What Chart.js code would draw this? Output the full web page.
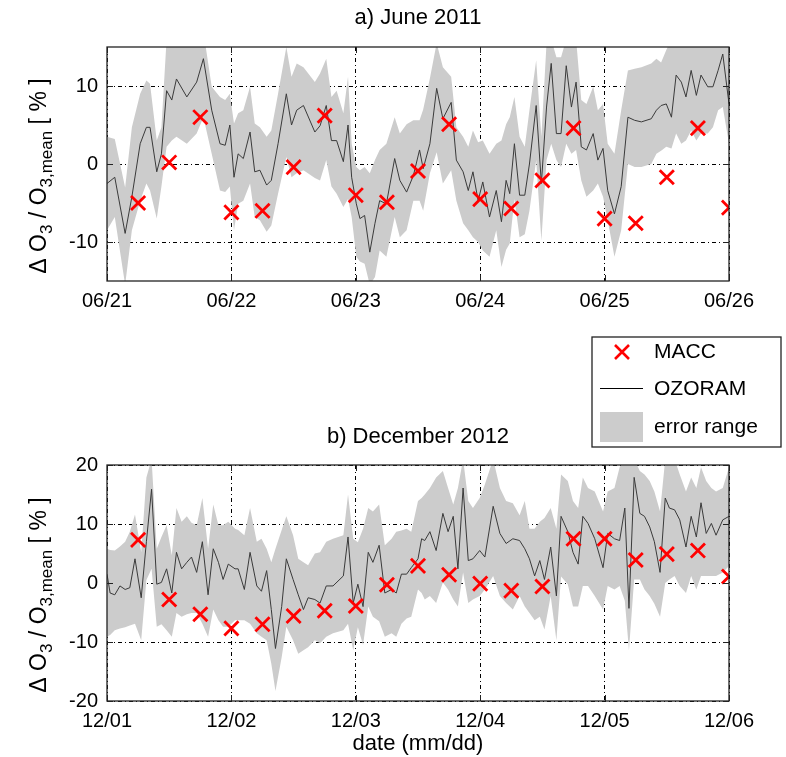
<!DOCTYPE html>
<html>
<head>
<meta charset="utf-8">
<script src="https://cdn.jsdelivr.net/npm/chart.js@4.4.0/dist/chart.umd.min.js"></script>
<style>
body { margin: 0; background: #fff; }
#wrap { position: relative; width: 786px; height: 757px; }
#chart_top { position: absolute; left: 0; top: 0; }
#chart_bottom { position: absolute; left: 0; top: 320px; }
</style>
</head>
<body>
<div id="wrap">
<canvas id="chart_top" width="786" height="320"></canvas>
<canvas id="chart_bottom" width="786" height="437"></canvas>
</div>
<script>
// tick labels / positions (hours since first day 00:00)
var dayHours = [0, 24, 48, 72, 96, 120];
var topDates = ['06/21', '06/22', '06/23', '06/24', '06/25', '06/26'];
var bottomDates = ['12/01', '12/02', '12/03', '12/04', '12/05', '12/06'];
var topTicksY = [-10, 0, 10];
var bottomTicksY = [-20, -10, 0, 10, 20];

// MACC model, 6-hourly
var maccHours = [6, 12, 18, 24, 30, 36, 42, 48, 54, 60, 66, 72, 78, 84, 90, 96, 102, 108, 114, 120];
var topMacc = [-5.0, 0.2, 6.0, -6.2, -6.0, -0.4, 6.2, -4.0, -4.9, -0.9, 5.1, -4.5, -5.7, -2.1, 4.6, -7.0, -7.6, -1.7, 4.6, -5.6];
var bottomMacc = [7.3, -2.8, -5.3, -7.7, -7.0, -5.6, -4.7, -3.9, -0.3, 2.9, 1.4, -0.1, -1.3, -0.6, 7.5, 7.5, 3.9, 4.9, 5.5, 1.1];

// OZORAM, June 2011
var topHours = [0, 1.5, 3.5, 4.8, 6.4, 7.6, 8.3, 9.6, 10.5, 11.5,
  12.5, 13.4, 15.4, 17.3, 18.6, 20.2, 21.8, 22.8, 23.7, 24.5,
  25.3, 26.3, 27.6, 28.5, 29.5, 30.8, 31.7, 33.0, 34.6, 35.6,
  36.6, 37.9, 40.1, 41.1, 42.3, 43.3, 44.3, 45.6, 46.5, 47.2,
  48.1, 48.8, 49.7, 50.7, 51.7, 52.6, 53.9, 55.5, 56.5, 57.8,
  59.1, 60.3, 61.0, 62.3, 63.6, 64.8, 66.4, 67.4, 68.7, 69.7,
  70.6, 71.6, 72.5, 73.8, 75.1, 76.1, 77.0, 77.7, 78.6, 79.6,
  80.6, 81.5, 82.8, 83.8, 84.8, 85.7, 86.7, 87.6, 88.6, 89.6,
  90.5, 91.5, 92.5, 93.8, 94.7, 95.7, 96.6, 97.9, 99.2, 100.5,
  101.8, 103.1, 105.0, 106.0, 106.9, 107.9, 108.9, 109.8, 110.8, 111.7,
  112.7, 113.7, 114.6, 115.9, 116.9, 117.9, 118.8, 120];
var topLine = [-2.5, -1.7, -8.9, -4.2, 2.6, 4.7, 4.7, -1.0, 1.3, 9.4,
  8.2, 10.9, 8.6, 10.5, 13.5, 6.9, 2.6, 2.4, 5.0, -1.7,
  1.3, 0.7, 4.1, -1.0, -0.8, -2.7, -2.1, 2.6, 9.0, 5.0,
  6.9, 7.5, 4.1, 4.9, 7.5, 3.0, 3.0, 0.3, 5.0, -1.7,
  -5.1, -7.0, -6.6, -11.3, -7.6, -4.7, -5.1, 0.7, -2.1, -3.6,
  -1.5, 1.8, -0.6, 2.6, 9.7, 5.8, 7.9, 0.5, -1.0, -3.4,
  -1.0, -4.7, -2.3, -6.8, -3.4, -7.4, -2.1, -3.8, 2.6, -4.0,
  -4.0, 0.0, 7.5, -2.5, 7.3, 12.9, 3.9, 3.9, 12.6, 7.3,
  10.5, 2.2, 1.8, 3.9, 0.5, 2.0, -3.4, -6.4, -2.9, 6.0,
  5.6, 5.4, 5.8, 6.9, 7.5, 7.7, 6.0, 11.4, 10.5, 8.6,
  12.0, 8.8, 11.4, 9.9, 9.9, 12.0, 14.1, 7.7];
var topUpper = [3.5, 3.2, -3.0, 4.7, 9.0, 10.7, 10.3, 3.0, 4.7, 16,
  16, 16, 16, 16, 17, 9.9, 8.6, 8.2, 9.0, 5.2,
  6.5, 6.9, 9.9, 5.2, 4.7, 3.5, 4.3, 9.0, 15.0, 11.2,
  12.9, 12.4, 10.5, 11.6, 13.5, 8.6, 9.4, 6.5, 11.2, 2.6,
  -0.4, -0.8, -0.4, -1.2, 0.5, 1.8, 2.6, 6.0, 3.9, 5.1,
  5.6, 5.6, 7.0, 11.0, 15.5, 12.4, 11.2, 4.7, 3.5, 2.2,
  4.3, 2.8, 3.0, 1.3, 2.6, 3.0, 5.1, 6.0, 8.6, 3.5,
  2.2, 6.9, 13.3, 3.5, 15.5, 16, 13.7, 13.7, 16, 16,
  16, 8.2, 7.7, 9.9, 6.9, 7.7, 2.6, 1.3, 6.9, 12.0,
  12.2, 12.4, 12.9, 13.5, 13.0, 14.6, 16, 16, 16, 16,
  16, 16, 16, 16, 16, 16, 16, 16];
var topLower = [-8.5, -6.8, -15.5, -8.5, -4.7, -2.5, -3.4, -7.0, -2.9, 2.2,
  3.0, 3.5, 2.6, 3.9, 6.0, 1.3, -3.4, -3.6, -2.9, -8.5,
  -5.1, -4.7, -2.5, -6.8, -7.2, -8.7, -7.9, -3.8, 0.9, -1.7,
  -1.2, -0.8, -1.8, -2.1, 0.5, -2.9, -3.8, -5.5, -4.5, -6.8,
  -11.9, -12.5, -12.8, -15.5, -14.5, -11.1, -11.9, -6.8, -9.4, -8.5,
  -4.7, -4.7, -6.0, -1.2, 1.5, -2.5, -0.8, -4.7, -7.6, -8.5,
  -9.4, -10.0, -11.1, -11.9, -8.5, -13.2, -11.0, -10.2, -4.5, -9.4,
  -9.0, -6.0, 0.5, -9.8, 0.5, 2.6, 0.5, -0.4, 2.6, 1.3,
  1.8, -2.1, -4.2, -3.4, -2.5, -4.2, -7.2, -11.9, -8.5, 0.0,
  -0.4, -0.4, 0.0, 1.3, 1.7, 2.2, 2.0, 3.9, 2.6, 3.0,
  4.3, 3.0, 3.9, 3.9, 4.7, 6.9, 7.3, 2.6];

// OZORAM, December 2012
var bottomHours = [0, 0.6, 1.5, 2.5, 3.5, 4.4, 5.4, 6.6, 7.6, 8.6,
  9.6, 10.5, 11.5, 12.5, 13.4, 14.4, 15.4, 16.3, 17.3, 18.4,
  19.5, 20.5, 21.5, 22.4, 23.4, 24.7, 25.3, 26.5, 27.6, 28.9,
  29.8, 30.8, 31.7, 32.5, 33.7, 34.6, 35.9, 36.9, 37.9, 38.8,
  40.1, 41.1, 42.3, 43.6, 45.6, 46.5, 47.5, 48.4, 49.4, 50.4,
  51.3, 52.5, 53.6, 54.9, 55.8, 56.8, 57.8, 58.7, 60.0, 60.7,
  61.3, 62.3, 63.5, 64.8, 65.8, 66.8, 67.7, 68.7, 69.7, 70.6,
  71.9, 72.9, 74.5, 75.8, 77.0, 78.3, 79.6, 80.6, 81.5, 82.5,
  83.5, 84.4, 85.6, 86.7, 87.6, 88.9, 89.9, 90.9, 91.8, 92.8,
  94.1, 95.7, 96.6, 97.9, 98.9, 99.9, 100.7, 101.7, 102.8, 103.7,
  104.7, 105.6, 106.7, 107.7, 108.5, 109.5, 110.5, 111.7, 112.7, 113.7,
  114.6, 115.6, 116.6, 117.5, 118.8, 120];
var bottomLine = [1.5, -1.7, -2.0, -0.5, -1.1, -0.8, 4.1, -2.5, 7.0, 15.9,
  -0.2, 0.1, 2.4, -1.7, 5.2, 2.4, 3.5, 4.4, 1.8, 7.0,
  -2.0, 5.8, 3.5, 0.6, 3.2, 2.4, 2.4, -1.1, 5.2, -0.5,
  -1.4, 2.1, -4.5, -11.1, -4.0, 4.1, 0.6, -2.0, -4.5, -2.5,
  -2.8, -3.4, -0.5, -0.5, 1.2, 7.8, -3.4, -0.2, -4.0, 5.2,
  3.5, 6.4, -1.7, -1.1, -1.7, 1.5, 1.5, 2.6, 4.1, 7.5,
  7.2, 8.7, 5.5, 11.8, 8.7, 11.3, 2.4, 16.1, 3.8, 4.1,
  5.5, 4.4, 13.0, 8.4, 6.7, 7.5, 7.2, 5.8, 4.1, 1.2,
  3.8, 0.6, 6.1, -2.2, 11.3, 8.7, 5.2, 3.2, 11.3, 10.1,
  7.5, 2.6, 8.4, 7.5, 7.2, 12.7, -4.3, 17.9, 11.8, 11.3,
  9.5, 7.0, 1.8, 14.4, 12.7, 12.4, 10.7, 6.1, 11.3, 7.8,
  13.6, 8.4, 10.1, 8.1, 10.7, 11.3];
var bottomUpper = [5.8, 5.6, 5.5, 6.2, 7.0, 8.7, 11.6, 5.2, 17.9, 21,
  5.8, 7.8, 9.8, 4.7, 12.7, 10.4, 11.3, 10.2, 9.8, 14.4,
  5.8, 13.3, 9.8, 9.8, 10.4, 9.2, 9.0, 8.1, 12.7, 7.0,
  7.5, 5.8, 3.5, 5.8, 9.0, 11.3, 8.1, 4.1, 3.5, 3.0,
  5.0, 5.2, 7.0, 7.5, 8.1, 15.0, 7.5, 6.9, 9.2, 12.7,
  12.1, 13.3, 6.4, 7.5, 8.7, 8.9, 9.2, 8.7, 13.9, 14.4,
  15.0, 16.1, 17.9, 19.0, 16.1, 13.3, 16.1, 21, 13.9, 12.7,
  14.4, 16.7, 21, 16.1, 13.9, 13.5, 11.5, 13.9, 9.2, 9.2,
  10.4, 11.0, 12.7, 9.2, 18.4, 17.3, 13.9, 12.7, 17.9, 16.1,
  15.5, 12.1, 15.5, 16.1, 19.6, 21, 21, 21, 19.0, 18.4,
  17.3, 15.5, 12.1, 21, 21, 21, 18.4, 15.5, 17.9, 16.1,
  19.6, 17.3, 16.1, 15.5, 16.1, 19.6];
var bottomLower = [-9.1, -8.8, -8.0, -7.7, -7.5, -7.2, -6.9, -9.7, 0.5, 2.4,
  -7.4, -7.0, -8.0, -9.1, -5.1, -5.7, -5.3, -5.1, -5.1, -6.9,
  -9.1, -4.5, -6.3, -7.4, -7.4, -6.3, -6.3, -6.3, -6.9, -8.5,
  -9.1, -9.7, -13.7, -18.3, -12.6, -7.4, -9.7, -12.0, -11.4, -10.9,
  -9.7, -10.2, -9.1, -8.5, -8.0, -6.9, -11.4, -7.5, -10.5, -4.0,
  -5.7, -6.5, -9.1, -8.5, -9.1, -6.9, -6.0, -5.7, -1.1, -1.7,
  -2.8, -2.2, -3.4, 0.1, -1.1, -2.8, -4.0, 1.8, -3.4, -2.8,
  -2.2, -1.1, 1.2, -2.2, -3.4, -4.5, -2.2, -4.0, -5.1, -6.3,
  -5.7, -7.9, -2.2, -9.7, 1.1, -0.2, -4.0, -4.0, -0.5, -0.5,
  -2.2, -4.5, -0.5, -1.1, -0.5, -3.0, -11.4, 0.6, 0.6, -1.1,
  -2.2, -3.5, -5.7, 0.0, 0.6, 1.2, -0.5, -1.7, 1.2, -1.1,
  1.2, 1.2, 1.2, 1.2, 1.8, 2.9];

var FONT = '"Liberation Sans", Arial, Helvetica, sans-serif';

function pts(xs, ys) {
  return xs.map(function (x, i) { return { x: x, y: ys[i] }; });
}

function makeDatasets(lineHours, line, upper, lower, macc) {
  return [{
    label: 'MACC',
    data: pts(maccHours, macc),
    showLine: false,
    pointStyle: 'crossRot',
    pointRadius: 10,
    pointBorderWidth: 2.8,
    pointBorderColor: '#ff0000',
    pointBackgroundColor: '#ff0000',
    order: 0
  }, {
    label: 'OZORAM',
    data: pts(lineHours, line),
    borderColor: '#3a3a3a',
    borderWidth: 1,
    pointRadius: 0,
    tension: 0,
    fill: false,
    order: 1
  }, {
    label: 'error range',
    data: pts(lineHours, upper),
    borderWidth: 0,
    borderColor: 'rgba(0,0,0,0)',
    backgroundColor: '#cccccc',
    pointRadius: 0,
    fill: '+1',
    order: 2
  }, {
    label: 'lower',
    data: pts(lineHours, lower),
    borderWidth: 0,
    borderColor: 'rgba(0,0,0,0)',
    pointRadius: 0,
    fill: false,
    order: 3
  }];
}

var yLabelParts = [
  { text: '\u0394 O', sub: false },
  { text: '3', sub: true },
  { text: ' / O', sub: false },
  { text: '3,mean', sub: true },
  { text: ' [ % ]', sub: false }
];

// panel title, black box, inward ticks and the y label with subscripts
var boxPlugin = {
  id: 'axesBox',
  afterDraw: function (chart, args, opts) {
    var a = chart.chartArea, c = chart.ctx;
    var xs = chart.scales.x, ys = chart.scales.y;
    c.save();
    c.strokeStyle = '#222';
    c.lineWidth = 1.3;
    c.strokeRect(a.left, a.top, a.right - a.left, a.bottom - a.top);
    c.lineWidth = 1;
    c.beginPath();
    xs.ticks.forEach(function (t) {
      var px = Math.round(xs.getPixelForValue(t.value)) + 0.5;
      c.moveTo(px, a.bottom); c.lineTo(px, a.bottom - 6);
      c.moveTo(px, a.top); c.lineTo(px, a.top + 6);
    });
    ys.ticks.forEach(function (t) {
      var py = Math.round(ys.getPixelForValue(t.value)) + 0.5;
      c.moveTo(a.left, py); c.lineTo(a.left + 6, py);
      c.moveTo(a.right, py); c.lineTo(a.right - 6, py);
    });
    c.stroke();

    c.fillStyle = '#000';
    c.textAlign = 'center';
    c.textBaseline = 'middle';
    c.font = '22px ' + FONT;
    c.fillText(opts.title, (a.left + a.right) / 2, opts.titleY);

    c.textAlign = 'left';
    c.translate(40, (a.top + a.bottom) / 2 + 12);
    c.rotate(-Math.PI / 2);
    var big = '23px ' + FONT, small = '17px ' + FONT;
    var total = 0;
    yLabelParts.forEach(function (p) {
      c.font = p.sub ? small : big;
      total += c.measureText(p.text).width;
    });
    var x = -total / 2;
    yLabelParts.forEach(function (p) {
      c.font = p.sub ? small : big;
      c.fillText(p.text, x, p.sub ? 7 : 0);
      x += c.measureText(p.text).width;
    });
    c.restore();
  }
};

// legend box between the two panels (drawn on the lower canvas)
var legendPlugin = {
  id: 'sideLegend',
  afterDraw: function (chart) {
    var c = chart.ctx, ds = chart.data.datasets;
    c.save();
    c.fillStyle = '#fff';
    c.fillRect(592, 17, 189, 110);
    c.strokeStyle = '#222';
    c.lineWidth = 1.3;
    c.strokeRect(592, 17, 189, 110);
    // cross
    c.strokeStyle = '#ff0000';
    c.lineWidth = 2.6;
    c.beginPath();
    c.moveTo(615, 25); c.lineTo(629, 39);
    c.moveTo(629, 25); c.lineTo(615, 39);
    c.stroke();
    // line
    c.strokeStyle = '#000';
    c.lineWidth = 1.2;
    c.beginPath();
    c.moveTo(600, 68.5); c.lineTo(643, 68.5);
    c.stroke();
    // patch
    c.fillStyle = '#cccccc';
    c.fillRect(600, 92, 43, 30);
    c.fillStyle = '#000';
    c.font = '21px ' + FONT;
    c.textBaseline = 'middle';
    c.fillText(ds[0].label, 654, 32);
    c.fillText(ds[1].label, 654, 69);
    c.fillText(ds[2].label, 654, 107);
    c.restore();
  }
};

function makeOptions(title, titleY, dates, yMin, yMax, yTicks, padTop, xHeight, xTitle) {
  return {
    responsive: false,
    animation: false,
    layout: { padding: { left: 0, right: 57, top: padTop, bottom: 0 } },
    plugins: {
      legend: { display: false },
      tooltip: { enabled: false },
      title: { display: false },
      axesBox: { title: title, titleY: titleY }
    },
    scales: {
      x: {
        type: 'linear',
        min: 0,
        max: 120,
        afterBuildTicks: function (s) { s.ticks = dayHours.map(function (v) { return { value: v }; }); },
        afterFit: function (s) { s.height = xHeight; },
        grid: { color: '#000', lineWidth: 1, drawTicks: false },
        border: { display: false, dash: [4, 3, 1, 3] },
        ticks: {
          color: '#000',
          padding: 8,
          maxRotation: 0,
          autoSkip: false,
          font: { family: FONT, size: 20 },
          callback: function (v) { return dates[dayHours.indexOf(v)]; }
        },
        title: {
          display: !!xTitle,
          text: xTitle || '',
          color: '#000',
          font: { family: FONT, size: 22, lineHeight: 1.2 },
          padding: { top: 0, bottom: 0 }
        }
      },
      y: {
        min: yMin,
        max: yMax,
        afterBuildTicks: function (s) { s.ticks = yTicks.map(function (v) { return { value: v }; }); },
        afterFit: function (s) { s.width = 107; },
        grid: { color: '#000', lineWidth: 1, drawTicks: false },
        border: { display: false, dash: [4, 3, 1, 3] },
        ticks: {
          color: '#000',
          padding: 9,
          font: { family: FONT, size: 20 }
        }
      }
    }
  };
}

var topChart = new Chart(document.getElementById('chart_top').getContext('2d'), {
  type: 'line',
  data: { datasets: makeDatasets(topHours, topLine, topUpper, topLower, topMacc) },
  options: makeOptions('a) June 2011', 18, topDates, -15, 15, topTicksY, 47, 39, null),
  plugins: [boxPlugin]
});

var bottomChart = new Chart(document.getElementById('chart_bottom').getContext('2d'), {
  type: 'line',
  data: { datasets: makeDatasets(bottomHours, bottomLine, bottomUpper, bottomLower, bottomMacc) },
  options: makeOptions('b) December 2012', 117, bottomDates, -20, 20, bottomTicksY, 145, 56, 'date (mm/dd)'),
  plugins: [boxPlugin, legendPlugin]
});
</script>
</body>
</html>
